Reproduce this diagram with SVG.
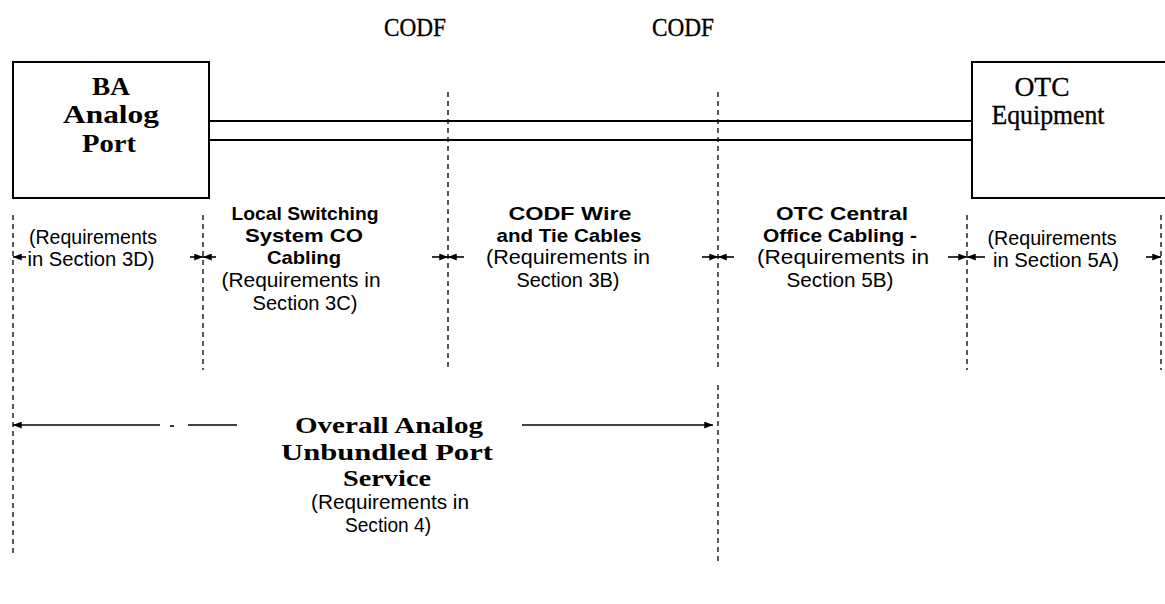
<svg xmlns="http://www.w3.org/2000/svg" width="1165" height="604" viewBox="0 0 1165 604">
  <defs>
    <marker id="ah" viewBox="0 0 10 8" refX="10" refY="4" markerWidth="9" markerHeight="7" orient="auto" markerUnits="userSpaceOnUse">
      <path d="M0,0 L10,4 L0,8 z" fill="#000"/>
    </marker>
  </defs>
  <style>
    .bg { fill: #fff; }
    .box { fill: none; stroke: #000; stroke-width: 2; }
    .cable { stroke: #000; stroke-width: 2.2; fill: none; }
    .dash { stroke: #000; stroke-width: 1.3; stroke-dasharray: 5 4; fill: none; }
    .arr { stroke: #000; stroke-width: 1.6; fill: none; marker-end: url(#ah); }
    .ln { stroke: #000; stroke-width: 1.6; fill: none; }
    text { fill: #000; text-anchor: middle; }
    .serifB { font-family: "Liberation Serif", "Times New Roman", serif; font-weight: bold; }
    .serif { font-family: "Liberation Serif", "Times New Roman", serif; stroke: #000; stroke-width: 0.35; }
    .sansB { font-family: "Liberation Sans", Arial, sans-serif; font-weight: bold; font-size: 19px; }
    .sans { font-family: "Liberation Sans", Arial, sans-serif; font-size: 19.5px; }
  </style>
  <rect class="bg" x="0" y="0" width="1165" height="604"/>

  <g id="codf-labels">
    <text class="serif" x="415" y="36" font-size="25" textLength="62" lengthAdjust="spacingAndGlyphs">CODF</text>
    <text class="serif" x="683" y="36" font-size="25" textLength="62" lengthAdjust="spacingAndGlyphs">CODF</text>
  </g>

  <g id="node-ba-analog-port">
    <rect class="box" x="13" y="62" width="196" height="136"/>
    <text class="serifB" x="111" y="95" font-size="26" textLength="38" lengthAdjust="spacingAndGlyphs">BA</text>
    <text class="serifB" x="111" y="123" font-size="26" textLength="96" lengthAdjust="spacingAndGlyphs">Analog</text>
    <text class="serifB" x="109" y="152" font-size="26" textLength="54" lengthAdjust="spacingAndGlyphs">Port</text>
  </g>

  <g id="node-otc-equipment">
    <path class="box" d="M1166,62 H972 V198 H1166"/>
    <text class="serif" x="1042" y="96" font-size="28" textLength="55" lengthAdjust="spacingAndGlyphs">OTC</text>
    <text class="serif" x="1048" y="124" font-size="28" textLength="113" lengthAdjust="spacingAndGlyphs">Equipment</text>
  </g>

  <g id="label-3d">
    <text class="sans" x="93" y="244" textLength="128" lengthAdjust="spacingAndGlyphs">(Requirements</text>
    <text class="sans" x="91" y="266" textLength="127" lengthAdjust="spacingAndGlyphs">in Section 3D)</text>
  </g>

  <g id="label-3c">
    <text class="sansB" x="305" y="220" textLength="147" lengthAdjust="spacingAndGlyphs">Local Switching</text>
    <text class="sansB" x="304" y="242" textLength="118" lengthAdjust="spacingAndGlyphs">System CO</text>
    <text class="sansB" x="304" y="264" textLength="74" lengthAdjust="spacingAndGlyphs">Cabling</text>
    <text class="sans" x="301" y="287" textLength="159" lengthAdjust="spacingAndGlyphs">(Requirements in</text>
    <text class="sans" x="305" y="310" textLength="105" lengthAdjust="spacingAndGlyphs">Section 3C)</text>
  </g>

  <g id="label-3b">
    <text class="sansB" x="570" y="220" textLength="123" lengthAdjust="spacingAndGlyphs">CODF Wire</text>
    <text class="sansB" x="569" y="242" textLength="145" lengthAdjust="spacingAndGlyphs">and Tie Cables</text>
    <text class="sans" x="568" y="264" textLength="164" lengthAdjust="spacingAndGlyphs">(Requirements in</text>
    <text class="sans" x="568" y="287" textLength="103" lengthAdjust="spacingAndGlyphs">Section 3B)</text>
  </g>

  <g id="label-5b">
    <text class="sansB" x="842" y="220" textLength="132" lengthAdjust="spacingAndGlyphs">OTC Central</text>
    <text class="sansB" x="840" y="242" textLength="154" lengthAdjust="spacingAndGlyphs">Office Cabling -</text>
    <text class="sans" x="843" y="264" textLength="172" lengthAdjust="spacingAndGlyphs">(Requirements in</text>
    <text class="sans" x="840" y="287" textLength="107" lengthAdjust="spacingAndGlyphs">Section 5B)</text>
  </g>

  <g id="label-5a">
    <text class="sans" x="1052" y="245" textLength="129" lengthAdjust="spacingAndGlyphs">(Requirements</text>
    <text class="sans" x="1056" y="267" textLength="126" lengthAdjust="spacingAndGlyphs">in Section 5A)</text>
  </g>

  <g id="label-overall">
    <text class="serifB" x="389" y="433" font-size="23" textLength="188" lengthAdjust="spacingAndGlyphs">Overall Analog</text>
    <text class="serifB" x="387" y="460" font-size="23" textLength="212" lengthAdjust="spacingAndGlyphs">Unbundled Port</text>
    <text class="serifB" x="387" y="486" font-size="23" textLength="88" lengthAdjust="spacingAndGlyphs">Service</text>
    <text class="sans" x="390" y="509" textLength="158" lengthAdjust="spacingAndGlyphs">(Requirements in</text>
    <text class="sans" x="388" y="532" textLength="86" lengthAdjust="spacingAndGlyphs">Section 4)</text>
  </g>

  <g id="connectors">
    <!-- double cable lines -->
    <line class="cable" x1="209" y1="121" x2="972" y2="121"/>
    <line class="cable" x1="209" y1="140" x2="972" y2="140"/>
    <!-- dashed boundary lines -->
    <line class="dash" x1="13" y1="215" x2="13" y2="555"/>
    <line class="dash" x1="203" y1="215" x2="203" y2="370"/>
    <line class="dash" x1="448" y1="92" x2="448" y2="370"/>
    <line class="dash" x1="718" y1="92" x2="718" y2="370"/>
    <line class="dash" x1="718" y1="385" x2="718" y2="565"/>
    <line class="dash" x1="967" y1="215" x2="967" y2="370"/>
    <line class="dash" x1="1161" y1="215" x2="1161" y2="370"/>
    <!-- section dimension arrows -->
    <line class="arr" x1="26" y1="257" x2="13" y2="257"/>
    <line class="arr" x1="190" y1="257" x2="203" y2="257"/>
    <line class="arr" x1="216" y1="257" x2="203" y2="257"/>
    <line class="arr" x1="432" y1="257" x2="448" y2="257"/>
    <line class="arr" x1="464" y1="257" x2="448" y2="257"/>
    <line class="arr" x1="702" y1="257" x2="718" y2="257"/>
    <line class="arr" x1="734" y1="257" x2="718" y2="257"/>
    <line class="arr" x1="948" y1="257" x2="967" y2="257"/>
    <line class="arr" x1="985" y1="257" x2="967" y2="257"/>
    <line class="arr" x1="1146" y1="257" x2="1161" y2="257"/>
    <!-- overall arrow -->
    <line class="arr" x1="160" y1="425" x2="13" y2="425"/>
    <line class="ln" x1="170" y1="426" x2="174" y2="426"/>
    <line class="ln" x1="188" y1="425" x2="237" y2="425"/>
    <line class="arr" x1="522" y1="425" x2="713" y2="425"/>
  </g>
</svg>
